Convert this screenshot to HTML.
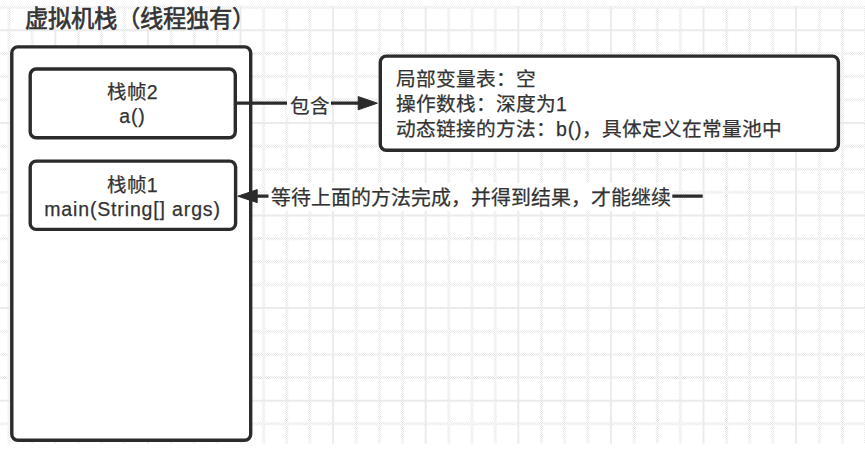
<!DOCTYPE html>
<html lang="zh-CN"><head><meta charset="utf-8">
<style>
html,body{margin:0;padding:0;background:#fff;}
body{width:865px;height:449px;position:relative;overflow:hidden;font-family:"Liberation Sans",sans-serif;color:#333;}
svg{position:absolute;left:0;top:0;}
.t{position:absolute;white-space:nowrap;line-height:1;-webkit-text-stroke:0.25px #333;}
.c{text-align:center;}
.l{font-size:19.5px;letter-spacing:0.85px;}
</style></head><body>
<svg width="865" height="449" viewBox="0 0 865 449">
<defs><pattern id="ck" width="2" height="2" patternUnits="userSpaceOnUse"><rect x="0" y="0" width="1" height="1" fill="#e7e7e7"/><rect x="1" y="1" width="1" height="1" fill="#e7e7e7"/></pattern></defs>
<path d="M9.00 6.5V443.5M32.15 6.5V443.5M78.45 6.5V443.5M101.60 6.5V443.5M124.75 6.5V443.5M171.05 6.5V443.5M194.20 6.5V443.5M217.35 6.5V443.5M263.65 6.5V443.5M286.80 6.5V443.5M309.95 6.5V443.5M356.25 6.5V443.5M379.40 6.5V443.5M402.55 6.5V443.5M448.85 6.5V443.5M472.00 6.5V443.5M495.15 6.5V443.5M541.45 6.5V443.5M564.60 6.5V443.5M587.75 6.5V443.5M634.05 6.5V443.5M657.20 6.5V443.5M680.35 6.5V443.5M726.65 6.5V443.5M749.80 6.5V443.5M772.95 6.5V443.5M819.25 6.5V443.5M842.40 6.5V443.5M865.55 6.5V443.5M0 7.15H865M0 53.45H865M0 76.60H865M0 99.75H865M0 146.05H865M0 169.20H865M0 192.35H865M0 238.65H865M0 261.80H865M0 284.95H865M0 331.25H865M0 354.40H865M0 377.55H865M0 423.85H865" stroke="url(#ck)" stroke-width="3" fill="none"/>
<path d="M55.30 6.5V443.5M147.90 6.5V443.5M240.50 6.5V443.5M333.10 6.5V443.5M425.70 6.5V443.5M518.30 6.5V443.5M610.90 6.5V443.5M703.50 6.5V443.5M796.10 6.5V443.5M0 30.30H865M0 122.90H865M0 215.50H865M0 308.10H865M0 400.70H865" stroke="#ebebeb" stroke-width="2" fill="none"/>
<rect x="287" y="90.5" width="44" height="25" fill="#fff"/>
<rect x="267.5" y="183" width="404.8" height="28" fill="#fff"/>
<g stroke="#2b2b2b" stroke-width="3.4" fill="#fff">
<rect x="11.8" y="46.9" width="238.9" height="393.4" rx="6"/>
<rect x="30.2" y="69" width="205.1" height="68.7" rx="6"/>
<rect x="30.2" y="161.1" width="205.4" height="68.3" rx="6"/>
<rect x="380.3" y="56.1" width="458.1" height="94.1" rx="6"/>
</g>
<g stroke="#2b2b2b" stroke-width="3.2" fill="none">
<path d="M235.3 103.2H287M331 103.2H360"/>
<path d="M255 196.2H268.5M672.3 196.2H702.7"/>
</g>
<g fill="#2b2b2b" stroke="#2b2b2b" stroke-width="1" stroke-linejoin="miter">
<path d="M358.2 96.6L377.4 103.2L358.2 109.8Z"/>
<path d="M257.2 189.6L237.8 196.2L257.2 202.6Z"/>
</g>
</svg>
<div class="t" style="left:24.6px;top:8px;font-size:23.3px;font-weight:400;-webkit-text-stroke:0.6px #333;">虚拟机栈（线程独有）</div>
<div class="t c" style="left:30px;width:205px;top:81px;font-size:19.5px;line-height:23.5px;">栈帧<span class="l">2</span><br><span class="l">a()</span></div>
<div class="t c" style="left:30px;width:205px;top:174.3px;font-size:19.5px;line-height:23.5px;">栈帧<span class="l">1</span><br><span class="l">main(String[] args)</span></div>
<div class="t" style="left:290.2px;top:96.6px;font-size:19.6px;">包含</div>
<div class="t" style="left:396px;top:66.5px;font-size:19.7px;line-height:25px;">局部变量表：空<br>操作数栈：深度为<span class="l">1</span><br>动态链接的方法：<span class="l">b()</span>，具体定义在常量池中</div>
<div class="t" style="left:271px;top:189.3px;font-size:19.9px;">等待上面的方法完成，并得到结果，才能继续</div>
</body></html>
